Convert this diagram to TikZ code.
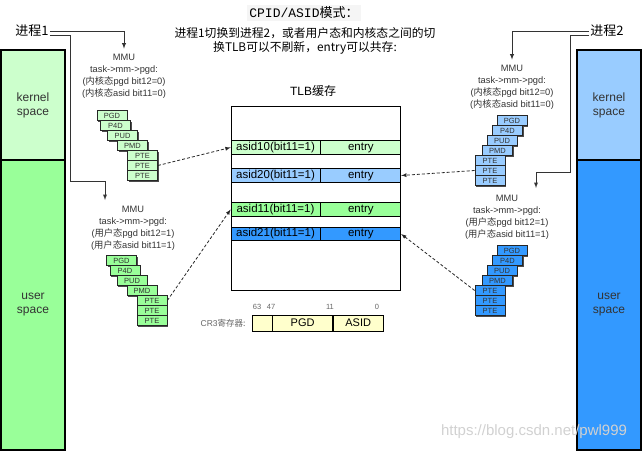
\documentclass[tikz,border=0pt]{standalone}
\usepackage{fontspec}
\setmainfont{Liberation Sans}
\setmonofont{Liberation Mono}
\newfontfamily\cjk{Noto Sans CJK SC}
\usetikzlibrary{shapes,arrows,positioning,shadows}

\definecolor{kgreen}{HTML}{CCFFCC}
\definecolor{ugreen}{HTML}{99FF99}
\definecolor{kblue}{HTML}{99CCFF}
\definecolor{ublue}{HTML}{3399FF}
\definecolor{regyellow}{HTML}{FFFFCC}
\definecolor{txtgray}{HTML}{333333}

\tikzset{
    memcol/.style={draw, line width=1.2pt, minimum width=64pt, inner sep=0pt,
        align=center, text=txtgray, font=\fontsize{12}{14}\selectfont},
    proctext/.style={inner sep=1pt, font=\cjk\fontsize{13}{13}\selectfont},
    mmutext/.style={align=center, inner sep=1pt, text=txtgray,
        font=\fontsize{9.3}{12}\selectfont},
    ptbox/.style={draw=black!85, line width=0.7pt, minimum width=30pt, minimum height=10pt,
        inner sep=0pt, text=txtgray, font=\fontsize{7.5}{8}\selectfont,
        drop shadow={shadow xshift=1pt, shadow yshift=-1pt, fill=black!70, opacity=1}},
    tlbcell/.style={draw, line width=0.8pt, minimum height=13.5pt, inner sep=0pt,
        font=\fontsize{11.5}{12}\selectfont},
    regcell/.style={draw, line width=0.6pt, fill=regyellow, minimum height=16pt,
        inner sep=0pt, font=\fontsize{11}{12}\selectfont},
    bitnum/.style={inner sep=0pt, text=black!60, font=\fontsize{7.5}{8}\selectfont},
    proc/.style={draw=black!80, line width=0.9pt, -latex},
    link/.style={draw=black!85, line width=0.8pt, dash pattern=on 3pt off 2pt, -latex}
}

\begin{document}
\begin{tikzpicture}[x=1pt,y=-1pt]
    \useasboundingbox (0,0) rectangle (642,452);

    % title and note
    \node[fill=gray!8, inner sep=2.5pt, font=\fontsize{13}{15}\selectfont] (title) at (304,13)
        {\texttt{CPID/ASID}{\cjk 模式：}};
    \node[align=center, font=\cjk\fontsize{11.8}{14}\selectfont] (note) at (305,41)
        {进程1切换到进程2，或者用户态和内核态之间的切\\换TLB可以不刷新，entry可以共存:};

    % address spaces
    \node[memcol, fill=kgreen, minimum height=110pt] (lkern) at (33,105) {kernel\\space};
    \node[memcol, fill=ugreen, minimum height=290pt] (luser) at (33,305) {user\\space};
    \node[memcol, fill=kblue, minimum height=110pt] (rkern) at (609,105) {kernel\\space};
    \node[memcol, fill=ublue, minimum height=290pt] (ruser) at (609,305) {user\\space};

    % processes
    \node[proctext] (p1) at (32,31) {进程1};
    \node[proctext] (p2) at (607,31) {进程2};

    % MMU notes
    \node[mmutext] (mmu1) at (124,76)
        {MMU\\task->mm->pgd:\\({\cjk 内核态}pgd bit12=0)\\({\cjk 内核态}asid bit11=0)};
    \node[mmutext] (mmu3) at (133,228)
        {MMU\\task->mm->pgd:\\({\cjk 用户态}pgd bit12=1)\\({\cjk 用户态}asid bit11=1)};
    \node[mmutext] (mmu2) at (512,87)
        {MMU\\task->mm->pgd:\\({\cjk 内核态}pgd bit12=0)\\({\cjk 内核态}asid bit11=0)};
    \node[mmutext] (mmu4) at (507,217)
        {MMU\\task->mm->pgd:\\({\cjk 用户态}pgd bit12=1)\\({\cjk 用户态}asid bit11=1)};

    % page table stacks
    \foreach \i/\t/\dx in {1/PGD/0, 2/P4D/3.5, 3/PUD/10.5, 4/PMD/20.5, 5/PTE/30.5, 6/PTE/30.5, 7/PTE/30.5}
        \node[ptbox, fill=kgreen] (kp1-\i) at (112+\dx,105.5+10*\i) {\t};
    \foreach \i/\t/\dx in {1/PGD/0, 2/P4D/3.5, 3/PUD/10.5, 4/PMD/20.5, 5/PTE/30.5, 6/PTE/30.5, 7/PTE/30.5}
        \node[ptbox, fill=ugreen] (up1-\i) at (121.5+\dx,250.5+10*\i) {\t};
    \foreach \i/\t/\dx in {1/PGD/0, 2/P4D/-4.5, 3/PUD/-10, 4/PMD/-14.5, 5/PTE/-22, 6/PTE/-22, 7/PTE/-22}
        \node[ptbox, fill=kblue] (kp2-\i) at (512+\dx,110.5+10*\i) {\t};
    \foreach \i/\t/\dx in {1/PGD/0, 2/P4D/-4.5, 3/PUD/-10, 4/PMD/-14.5, 5/PTE/-22, 6/PTE/-22, 7/PTE/-22}
        \node[ptbox, fill=ublue] (up2-\i) at (512+\dx,240.5+10*\i) {\t};

    % TLB
    \node[draw, line width=1pt, minimum width=169pt, minimum height=184pt] (tlb) at (315.5,198) {};
    \node[font=\fontsize{12}{12}\selectfont] (tlbcap) at (313,91) {TLB{\cjk 缓存}};

    \node[tlbcell, fill=kgreen, minimum width=89pt] (t10) at (275.5,147.5) {asid10(bit11=1)};
    \node[tlbcell, fill=kgreen, minimum width=80pt, right=0pt of t10] (e10) {entry};
    \node[tlbcell, fill=kblue, minimum width=89pt] (t20) at (275.5,175.5) {asid20(bit11=1)};
    \node[tlbcell, fill=kblue, minimum width=80pt, right=0pt of t20] (e20) {entry};
    \node[tlbcell, fill=ugreen, minimum width=89pt] (t11) at (275.5,209.5) {asid11(bit11=1)};
    \node[tlbcell, fill=ugreen, minimum width=80pt, right=0pt of t11] (e11) {entry};
    \node[tlbcell, fill=ublue, minimum width=89pt] (t21) at (275.5,234) {asid21(bit11=1)};
    \node[tlbcell, fill=ublue, minimum width=80pt, right=0pt of t21] (e21) {entry};

    % CR3 register
    \node[regcell, minimum width=20pt] (cr0) at (262,323) {};
    \node[regcell, minimum width=60pt, right=0pt of cr0] (cr1) {PGD};
    \node[regcell, minimum width=50pt, right=0pt of cr1] (cr2) {ASID};
    \node[anchor=east, inner sep=0pt, text=black!60, font=\fontsize{8.5}{9}\selectfont] (cr3)
        at ([xshift=-6pt]cr0.west) {CR3{\cjk 寄存器:}};
    \node[bitnum] (b63) at (257,307) {63};
    \node[bitnum] (b47) at (271,307) {47};
    \node[bitnum] (b11) at (330,307) {11};
    \node[bitnum] (b0) at (377,307) {0};

    % process arrows
    \draw[proc, shorten >=4pt] (p1.east) -| (mmu1.north);
    \coordinate (p1a) at (70,181);
    \coordinate (p1b) at (105,200);
    \draw[proc] ([yshift=-4pt]p1.east) -| (p1a) -| (p1b);
    \draw[proc, shorten >=4pt] (p2.west) -| (mmu2.north);
    \coordinate (p2a) at (570,172);
    \coordinate (p2b) at (536,188);
    \draw[proc] ([yshift=-4pt]p2.west) -| (p2a) -| (p2b);

    % page table -> TLB entry
    \draw[link] (kp1-6.east) -- (t10.west);
    \draw[link] (up1-5.east) -- (t11.west);
    \draw[link] (kp2-6.west) -- (e20.east);
    \draw[link] (up2-5.west) -- (e21.east);

    % watermark
    \node[text=white!82!black, font=\fontsize{15}{15}\selectfont] (wm) at (534,432)
        {https://blog.csdn.net/pwl999};
\end{tikzpicture}
\end{document}
